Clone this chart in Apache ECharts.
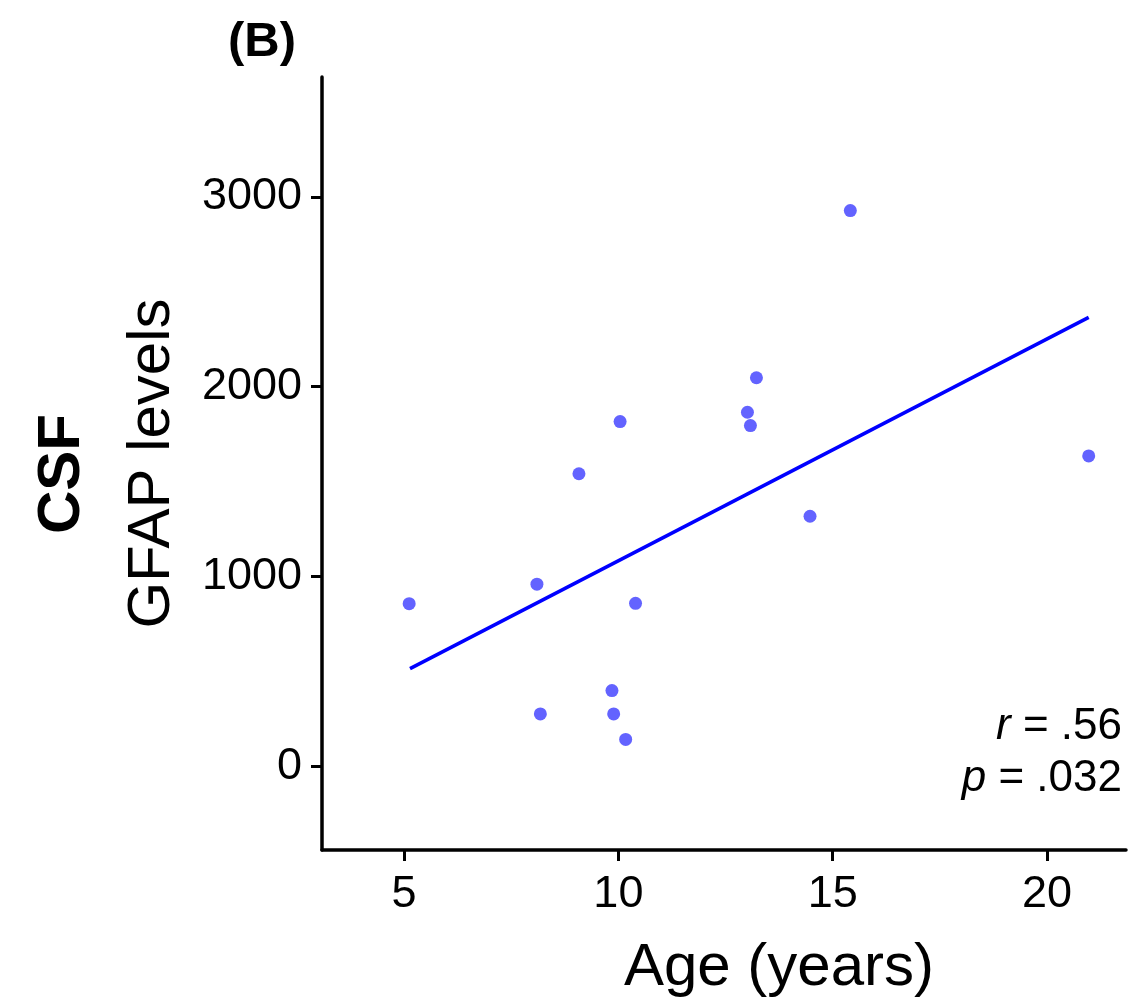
<!DOCTYPE html>
<html>
<head>
<meta charset="utf-8">
<script src="https://cdn.jsdelivr.net/npm/echarts@6/dist/echarts.min.js"></script>
<style>
html,body{margin:0;padding:0;background:#fff;}
#chart{width:1138px;height:997px;}
</style>
</head>
<body>
<div id="chart"></div>
<script>
// Data
const ageYears = [5.12, 8.10, 8.18, 9.08, 10.04, 9.85, 9.89, 10.17, 10.40, 13.01, 13.08, 13.22, 14.47, 15.41, 20.97];
const gfapLevels = [856, 959, 275, 1541, 1816, 398, 275, 141, 858, 1865, 1795, 2047, 1317, 2928, 1635];
const fitAge = [5.14, 20.97];
const fitGfap = [514, 2365];
const xTicks = [5, 10, 15, 20];
const yTicks = [0, 1000, 2000, 3000];
const panelLabel = '(B)';
const xTitle = 'Age (years)';
const yTitle = 'GFAP levels';
const yGroup = 'CSF';
const statR = '.56';
const statP = '.032';

const FONT = '"Liberation Sans", Arial, Helvetica, sans-serif';

const points = ageYears.map((a, i) => [a, gfapLevels[i]]);
const fitLine = fitAge.map((a, i) => [a, fitGfap[i]]);

const chart = echarts.init(document.getElementById('chart'), null, {renderer: 'canvas'});
chart.setOption({
  backgroundColor: '#ffffff',
  animation: false,
  grid: {left: 322, right: 12, top: 77, bottom: 147, containLabel: false, outerBoundsMode: 'none'},
  xAxis: {
    type: 'value',
    min: 3.087, max: 21.84,
    name: xTitle,
    nameLocation: 'middle',
    nameGap: 88,
    nameTextStyle: {fontFamily: FONT, fontSize: 60, color: '#000', padding: [0, 0, 0, 110]},
    axisLine: {show: true, onZero: false, lineStyle: {color: '#000', width: 3.5}},
    axisTick: {show: true, length: 11, customValues: xTicks, lineStyle: {color: '#000', width: 3}},
    axisLabel: {customValues: xTicks, fontFamily: FONT, fontSize: 45, color: '#000', margin: 22,
      formatter: v => String(v)},
    splitLine: {show: false}
  },
  yAxis: {
    type: 'value',
    min: -442, max: 3632,
    name: yTitle,
    nameLocation: 'middle',
    nameRotate: 90,
    nameGap: 140,
    nameTextStyle: {fontFamily: FONT, fontSize: 60, color: '#000'},
    axisLine: {show: true, onZero: false, lineStyle: {color: '#000', width: 3.5}},
    axisTick: {show: true, length: 11, customValues: yTicks, lineStyle: {color: '#000', width: 3}},
    axisLabel: {customValues: yTicks, fontFamily: FONT, fontSize: 45, color: '#000', margin: 20,
      formatter: v => String(v)},
    splitLine: {show: false}
  },
  series: [
    {
      type: 'line',
      data: fitLine,
      symbol: 'none',
      lineStyle: {color: '#0000ff', width: 3.5},
      z: 2
    },
    {
      type: 'scatter',
      data: points,
      symbol: 'circle',
      symbolSize: 13,
      itemStyle: {color: '#3c3cff'},
      z: 3
    }
  ],
  graphic: [
    {
      type: 'text', left: 228, top: 18,
      style: {text: panelLabel, font: 'bold 49px ' + FONT, fill: '#000'}
    },
    {
      type: 'text', x: 62, y: 474, rotation: Math.PI / 2,
      style: {text: yGroup, font: 'bold 60px ' + FONT, fill: '#000', align: 'center', verticalAlign: 'middle'}
    },
    {
      type: 'text', x: 1122, y: 727,
      style: {
        rich: {
          i: {font: 'italic 44px ' + FONT, fill: '#000'},
          n: {font: '44px ' + FONT, fill: '#000'}
        },
        text: '{i|r}{n| = ' + statR + '}',
        align: 'right', verticalAlign: 'middle'
      }
    },
    {
      type: 'text', x: 1122, y: 779,
      style: {
        rich: {
          i: {font: 'italic 44px ' + FONT, fill: '#000'},
          n: {font: '44px ' + FONT, fill: '#000'}
        },
        text: '{i|p}{n| = ' + statP + '}',
        align: 'right', verticalAlign: 'middle'
      }
    }
  ]
});
</script>
</body>
</html>
